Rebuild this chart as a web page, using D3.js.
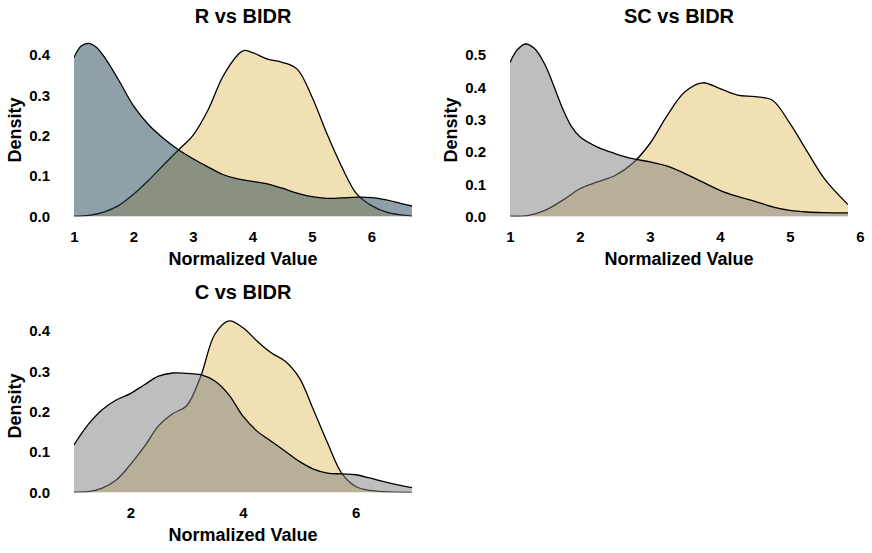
<!DOCTYPE html>
<html>
<head>
<meta charset="utf-8">
<script src="https://cdn.jsdelivr.net/npm/d3@7"></script>
<style>
  body { margin: 0; background: #fff; }
  svg { display: block; font-family: "Liberation Sans", Arial, sans-serif; }
</style>
</head>
<body>
<svg id="chart" width="872" height="553"></svg>
<script>
// ---------- DATA ----------
const panelTitles = ["R vs BIDR", "SC vs BIDR", "C vs BIDR"];
const xDomains = [[1, 6.68], [1, 5.83], [1, 7]];
const yMaxes = [0.4, 0.5, 0.4];
const xTicks = [[1, 2, 3, 4, 5, 6], [1, 2, 3, 4, 5, 6], [2, 4, 6]];
const yTicks = [[0, 0.1, 0.2, 0.3, 0.4], [0, 0.1, 0.2, 0.3, 0.4, 0.5], [0, 0.1, 0.2, 0.3, 0.4]];

// Panel 1: R vs BIDR
const rX = [1, 1.12, 1.24, 1.37, 1.5, 1.75, 2, 2.25, 2.5, 2.75, 3, 3.25, 3.5, 3.75, 4, 4.25, 4.5, 4.75, 5, 5.25, 5.5, 5.75, 6, 6.25, 6.5, 6.68];
const rY = [0.394, 0.422, 0.429, 0.42, 0.397, 0.338, 0.274, 0.228, 0.194, 0.166, 0.143, 0.123, 0.104, 0.093, 0.087, 0.081, 0.07, 0.058, 0.049, 0.045, 0.046, 0.048, 0.047, 0.041, 0.032, 0.026];
const bidr1X = [1, 1.25, 1.5, 1.75, 2, 2.25, 2.5, 2.75, 3, 3.25, 3.5, 3.75, 3.85, 4, 4.25, 4.5, 4.75, 5, 5.25, 5.5, 5.75, 6, 6.25, 6.5, 6.68];
const bidr1Y = [0.001, 0.003, 0.011, 0.027, 0.055, 0.089, 0.127, 0.164, 0.201, 0.263, 0.346, 0.4, 0.411, 0.406, 0.39, 0.382, 0.365, 0.296, 0.205, 0.123, 0.056, 0.027, 0.011, 0.004, 0.001];

// Panel 2: SC vs BIDR
const scX = [1, 1.1, 1.22, 1.35, 1.5, 1.625, 1.75, 1.875, 2, 2.25, 2.5, 2.75, 3, 3.25, 3.5, 3.75, 4, 4.25, 4.5, 4.75, 5, 5.25, 5.5, 5.83];
const scY = [0.477, 0.515, 0.534, 0.52, 0.47, 0.405, 0.335, 0.28, 0.247, 0.215, 0.195, 0.179, 0.169, 0.156, 0.133, 0.107, 0.081, 0.062, 0.047, 0.03, 0.019, 0.014, 0.012, 0.011];
const bidr2X = [1, 1.25, 1.5, 1.75, 2, 2.25, 2.5, 2.75, 3, 3.25, 3.5, 3.75, 4, 4.25, 4.5, 4.75, 5, 5.25, 5.5, 5.83];
const bidr2Y = [0.001, 0.003, 0.019, 0.05, 0.086, 0.107, 0.127, 0.164, 0.226, 0.314, 0.386, 0.414, 0.396, 0.376, 0.371, 0.36, 0.288, 0.2, 0.115, 0.037];

// Panel 3: C vs BIDR
const cX = [1, 1.25, 1.5, 1.75, 2, 2.25, 2.5, 2.75, 3, 3.25, 3.5, 3.75, 4, 4.25, 4.5, 4.75, 5, 5.25, 5.5, 5.75, 6, 6.25, 6.5, 6.75, 7];
const cY = [0.118, 0.168, 0.205, 0.229, 0.245, 0.267, 0.288, 0.296, 0.295, 0.292, 0.276, 0.242, 0.189, 0.152, 0.127, 0.102, 0.077, 0.058, 0.048, 0.046, 0.044, 0.036, 0.027, 0.019, 0.012];
const bidr3X = [1, 1.25, 1.5, 1.75, 2, 2.25, 2.5, 2.75, 3, 3.25, 3.5, 3.75, 4, 4.25, 4.5, 4.75, 5, 5.25, 5.5, 5.75, 6, 6.25, 6.5, 7];
const bidr3Y = [0.001, 0.002, 0.011, 0.031, 0.069, 0.114, 0.165, 0.195, 0.215, 0.288, 0.392, 0.425, 0.408, 0.375, 0.346, 0.325, 0.284, 0.205, 0.123, 0.048, 0.015, 0.005, 0.002, 0.0];

const seriesTop = [
  {x: rX, y: rY, color: "#1f4151"},
  {x: scX, y: scY, color: "#7d7d7d"},
  {x: cX, y: cY, color: "#7d7d7d"}
];
const seriesBidr = [
  {x: bidr1X, y: bidr1Y, color: "#e5c16b"},
  {x: bidr2X, y: bidr2Y, color: "#e5c16b"},
  {x: bidr3X, y: bidr3Y, color: "#e5c16b"}
];

// ---------- LAYOUT ----------
const panels = [
  {left: 74, right: 412, top: 55, base: 216.5, ox: 0, oy: 0},
  {left: 510, right: 848, top: 55, base: 216.5, ox: 436, oy: 0},
  {left: 74, right: 412, top: 331, base: 492.5, ox: 0, oy: 276}
];

const svg = d3.select("#chart");

panels.forEach((p, i) => {
  const x = d3.scaleLinear().domain(xDomains[i]).range([p.left, p.right]);
  const y = d3.scaleLinear().domain([0, yMaxes[i]]).range([p.base, p.top]);
  const g = svg.append("g");
  const clipId = "clip" + i;
  svg.append("clipPath").attr("id", clipId).append("rect")
    .attr("x", p.left).attr("y", p.top - 20).attr("width", p.right - p.left).attr("height", p.base - p.top + 20);

  const drawSeries = (s) => {
    const pts = s.x.map((v, k) => [v, s.y[k]]);
    const curve = d3.curveCatmullRom.alpha(0.5);
    const area = d3.area().x(d => x(d[0])).y0(y(0)).y1(d => y(d[1])).curve(curve);
    const line = d3.line().x(d => x(d[0])).y(d => y(d[1])).curve(curve);
    const sg = g.append("g").attr("clip-path", `url(#${clipId})`);
    sg.append("path").attr("d", area(pts)).attr("fill", s.color).attr("fill-opacity", 0.5);
    sg.append("path").attr("d", line(pts)).attr("fill", "none").attr("stroke", "#000").attr("stroke-width", 1.3);
  };
  drawSeries(seriesBidr[i]);
  drawSeries(seriesTop[i]);

  // y axis tick labels
  const yAx = g.append("g").attr("transform", `translate(${p.ox + 50},0)`)
    .call(d3.axisLeft(y).tickValues(yTicks[i]).tickFormat(d3.format(".1f")).tickSize(0).tickPadding(0));
  yAx.select(".domain").remove();
  yAx.selectAll("text").attr("font-size", 15).attr("font-weight", "bold")
    .attr("font-family", "Liberation Sans, Arial, sans-serif").attr("fill", "#000");

  // x axis tick labels
  const xAx = g.append("g").attr("transform", `translate(0,${p.oy + 231})`)
    .call(d3.axisBottom(x).tickValues(xTicks[i]).tickFormat(d3.format("d")).tickSize(0).tickPadding(0));
  xAx.select(".domain").remove();
  xAx.selectAll("text").attr("font-size", 15).attr("font-weight", "bold")
    .attr("font-family", "Liberation Sans, Arial, sans-serif").attr("fill", "#000");

  // title
  g.append("text").attr("x", (p.left + p.right) / 2).attr("y", p.oy + 23.3)
    .attr("text-anchor", "middle").attr("font-size", 20).attr("font-weight", "bold").text(panelTitles[i]);
  // x axis title
  g.append("text").attr("x", (p.left + p.right) / 2).attr("y", p.oy + 264.5)
    .attr("text-anchor", "middle").attr("font-size", 18).attr("font-weight", "bold").text("Normalized Value");
  // y axis title
  g.append("text").attr("transform", `translate(${p.ox + 20.5},${p.oy + 130}) rotate(-90)`)
    .attr("text-anchor", "middle").attr("font-size", 18).attr("font-weight", "bold").text("Density");
});
</script>
</body>
</html>
